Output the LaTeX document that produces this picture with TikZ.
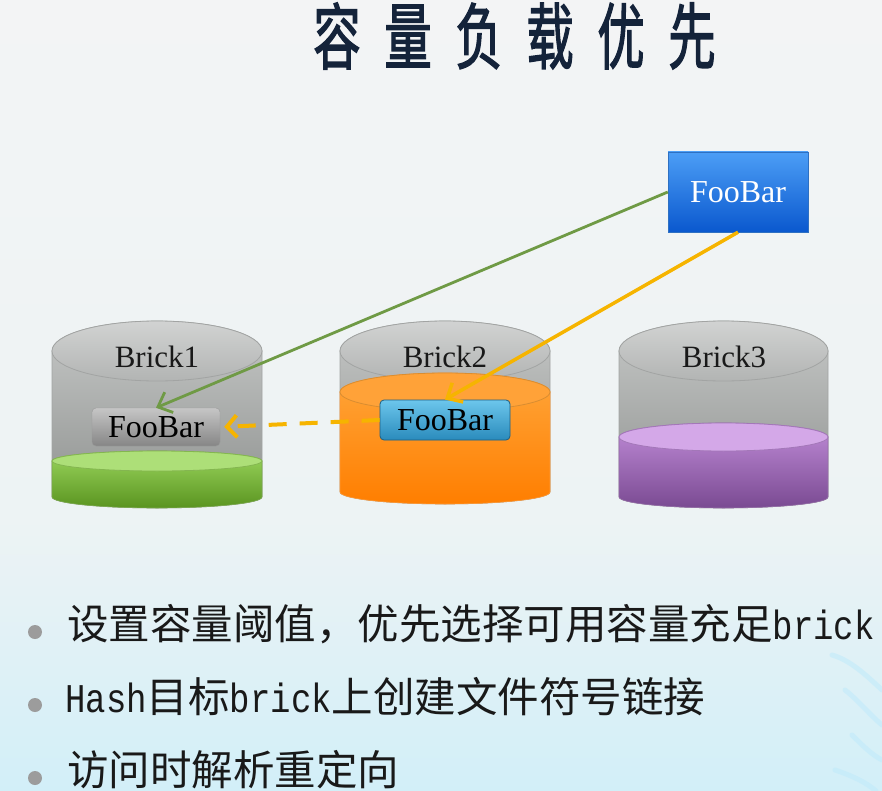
\documentclass[tikz,border=0pt]{standalone}
\usepackage{fontspec}
\setmainfont{Liberation Serif}
\newfontfamily\cjk{Noto Sans CJK SC}
\newfontfamily\cjktitle[FakeBold=2]{Noto Sans CJK SC}
\newfontfamily\monofnt{Liberation Mono}
\usetikzlibrary{arrows.meta}
\definecolor{bgtop}{HTML}{F3F4F5}
\definecolor{bgmid}{HTML}{EDF3F4}
\definecolor{bgbot}{HTML}{D2EFF8}
\definecolor{titlec}{HTML}{14233A}
\definecolor{grayA}{HTML}{C6C8C7}
\definecolor{grayB}{HTML}{8D908E}
\definecolor{grayE}{HTML}{A2A4A3}
\definecolor{amber}{HTML}{F6B400}
\definecolor{greenln}{HTML}{6F9A45}
\definecolor{grnT}{HTML}{9BD65E}
\definecolor{grnB}{HTML}{5A9420}
\definecolor{grnC}{HTML}{ADDF78}
\definecolor{orgT}{HTML}{FFA63A}
\definecolor{orgB}{HTML}{FF7E00}
\definecolor{orgC}{HTML}{FFA238}
\definecolor{purT}{HTML}{C08CD8}
\definecolor{purB}{HTML}{7A4A92}
\definecolor{purC}{HTML}{D4A8E8}
\definecolor{cyT}{HTML}{6CC6EC}
\definecolor{cyB}{HTML}{2A8BBC}
\definecolor{cyE}{HTML}{1D5F84}
\definecolor{blT}{HTML}{4C9EF6}
\definecolor{blB}{HTML}{0A58CE}
\definecolor{blE}{HTML}{2E70C2}
\definecolor{dotc}{HTML}{9C9C9C}
\tikzset{
  x=1pt, y=1pt,
  lbl/.style={font=\fontsize{31}{31}\selectfont, text=black!90, inner sep=0pt},
  foobox/.style={rounded corners=4pt, minimum width=128pt, minimum height=38pt, inner sep=0pt, font=\fontsize{32}{32}\selectfont},
  bullettext/.style={anchor=base west, inner sep=0pt, text=black!90},
  bulletdot/.style={circle, inner sep=0pt, minimum size=14pt, fill=dotc, draw=none},
  splash/.style={draw=cyan!25!white, line width=5pt, line cap=round, opacity=0.55},
}
\newcommand\mlat[1]{{\monofnt\fontsize{34}{34}\selectfont\scalebox{1}[1.2]{#1}}}
% cylinder body: x1 x2 cy(top) by(bottom) rtop rbot
\newcommand\cylbody[6]{%
  \shade[top color=grayA, bottom color=grayB, draw=grayE, line width=0.6pt]
    (#1,-#3) -- (#1,-#4) arc[start angle=180, end angle=360, x radius={(#2-#1)/2}, y radius=#6]
    -- (#2,-#3) arc[start angle=0, end angle=180, x radius={(#2-#1)/2}, y radius=#5] -- cycle;
  \shade[top color=grayA!80!white, bottom color=grayA!90!black, draw=grayE, line width=0.8pt]
    ({(#1+#2)/2},-#3) ellipse[x radius={(#2-#1)/2}, y radius=#5];
}
% liquid: x1 x2 lt by lr rbot topcol botcol capcol
\newcommand\cylliquid[9]{%
  \shade[top color=#7, bottom color=#8, draw=#8!80!white, line width=0.6pt]
    (#1,-#3) -- (#1,-#4) arc[start angle=180, end angle=360, x radius={(#2-#1)/2}, y radius=#6]
    -- (#2,-#3) arc[start angle=0, end angle=180, x radius={(#2-#1)/2}, y radius=#5] -- cycle;
  \filldraw[fill=#9, draw=#7!85!black, line width=0.8pt]
    ({(#1+#2)/2},-#3) ellipse[x radius={(#2-#1)/2}, y radius=#5];
}
\begin{document}
\begin{tikzpicture}
\useasboundingbox (0,0) rectangle (882,-791);
% background
\shade[top color=bgtop, bottom color=bgmid] (0,0) rectangle (882,-520);
\shade[top color=bgmid, bottom color=bgbot] (0,-520) rectangle (882,-791);
% splash decoration bottom right
\draw[splash] (832,-655) .. controls (850,-660) and (866,-675) .. (882,-690);
\draw[splash] (845,-690) .. controls (858,-700) and (870,-715) .. (882,-725);
\draw[splash] (852,-735) .. controls (862,-745) and (872,-755) .. (882,-760);
\draw[splash] (835,-770) .. controls (850,-775) and (866,-782) .. (876,-791);

% title
\foreach \c [count=\i from 0] in {容,量,负,载,优,先}{
  \node[text=titlec, inner sep=0pt, font=\cjktitle\fontsize{72}{72}\selectfont] (title\i) at ({337+71*\i},-36) {\scalebox{0.66}[1]{\c}};
}

% bricks
\cylbody{52}{262}{351}{497}{30}{11}
\cylliquid{52}{262}{461}{497}{10}{11}{grnT}{grnB}{grnC}
\cylbody{340}{550}{351}{492}{30}{12}
\cylliquid{340}{550}{392}{492}{19}{12}{orgT}{orgB}{orgC}
\cylbody{619}{828}{351}{497}{30}{11}
\cylliquid{619}{828}{437}{497}{14}{11}{purT}{purB}{purC}

\node[lbl] (brick1) at (157,-357) {Brick1};
\node[lbl] (brick2) at (445,-357) {Brick2};
\node[lbl] (brick3) at (724,-357) {Brick3};

% FooBar boxes
\node[foobox, top color=gray!45, bottom color=gray!95, draw=gray!80, text=black] (b1f) at (156,-427) {FooBar};
\node[foobox, minimum width=130pt, minimum height=40pt, top color=cyT, bottom color=cyB, draw=cyE, line width=0.8pt, text=black] (b2f) at (445,-420) {FooBar};
\node[minimum width=140pt, minimum height=80pt, inner sep=0pt,
  top color=blT, bottom color=blB, draw=blE,
  text=white, font=\fontsize{32}{32}\selectfont] (top) at (738,-192) {FooBar};

% connectors
\draw[greenln, line width=2.8pt, -{Straight Barb[length=12pt, width=22pt]}] (top.west) -- (b1f.north);
\draw[amber, line width=3.5pt, -{Straight Barb[length=12pt, width=22pt]}] (top.south) -- (b2f.north);
\draw[amber, line width=4pt, dash pattern=on 18pt off 13pt, shorten >=4pt, -{Straight Barb[length=10pt, width=22pt]}] (b2f.west) -- (b1f.east);

% bullets
\node[bulletdot] (d1) at (35,-632) {};
\node[bulletdot] (d2) at (35,-705) {};
\node[bulletdot] (d3) at (35,-778) {};
\node[bullettext] (t1) at (67,-639) {\cjk\fontsize{41.5}{41.5}\selectfont 设置容量阈值，优先选择可用容量充足\mlat{brick}};
\node[bullettext] (t2) at (65,-712) {\mlat{Hash}\cjk\fontsize{41.5}{41.5}\selectfont 目标\mlat{brick}上创建文件符号链接};
\node[bullettext] (t3) at (67,-785) {\cjk\fontsize{41.5}{41.5}\selectfont 访问时解析重定向};
\end{tikzpicture}
\end{document}
